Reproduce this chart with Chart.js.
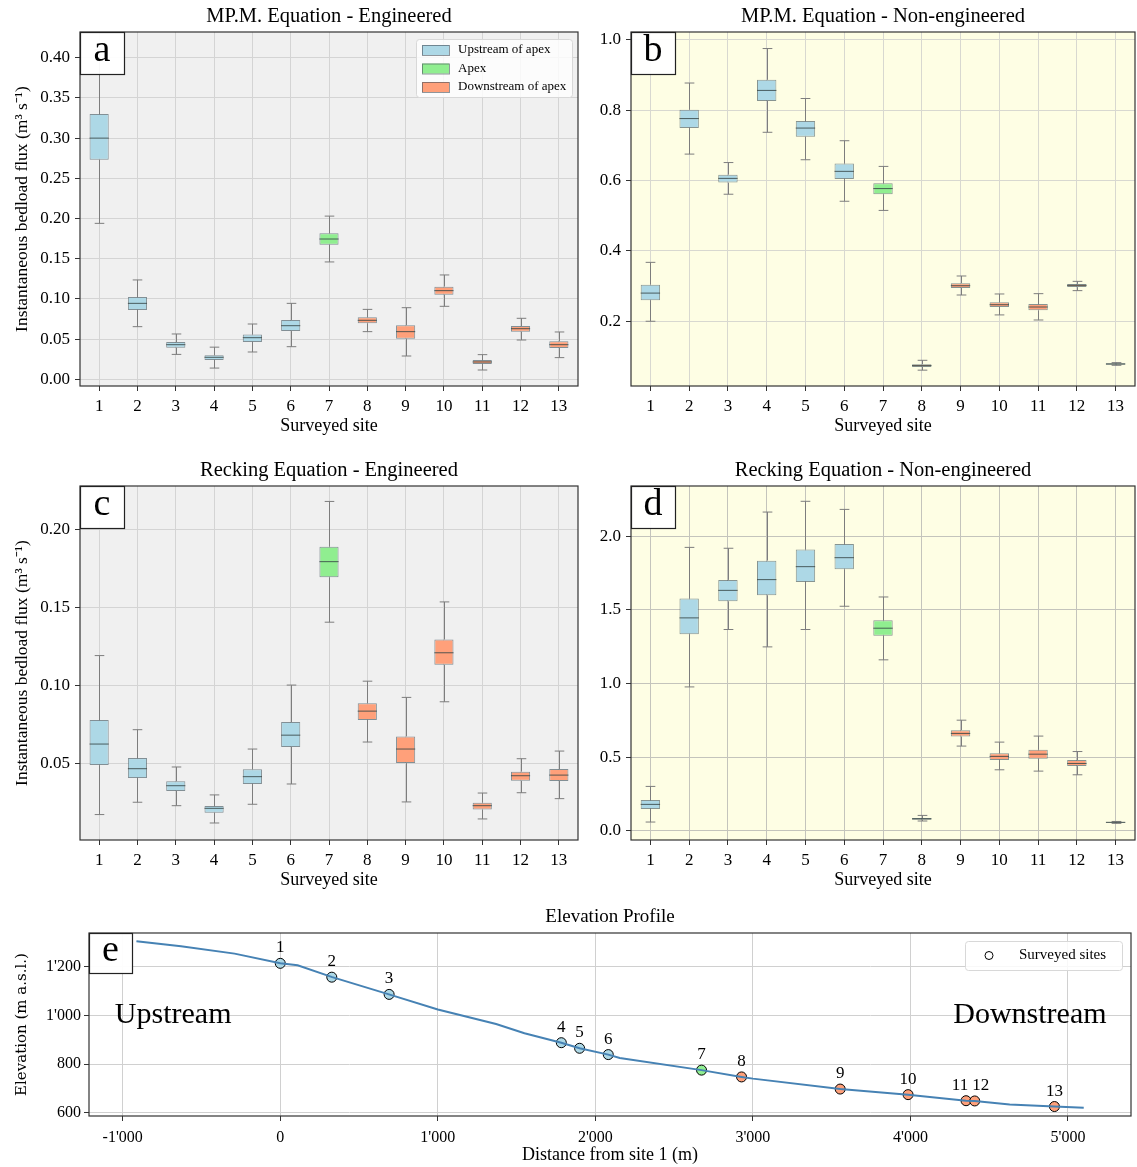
<!DOCTYPE html>
<html>
<head>
<meta charset="utf-8">
<script src="https://cdn.jsdelivr.net/npm/chart.js@4.4.1/dist/chart.umd.min.js"></script>
<style>
  body { margin: 0; background: #fff; width: 1137px; height: 1167px; position: relative; overflow: hidden; }
  .panel { position: absolute; }
</style>
</head>
<body>
<div class="panel" style="left:0;top:0;width:580px;height:445px"><canvas id="chartA"></canvas></div>
<div class="panel" style="left:580px;top:0;width:557px;height:445px"><canvas id="chartB"></canvas></div>
<div class="panel" style="left:0;top:454px;width:580px;height:445px"><canvas id="chartC"></canvas></div>
<div class="panel" style="left:580px;top:454px;width:557px;height:445px"><canvas id="chartD"></canvas></div>
<div class="panel" style="left:0;top:903px;width:1137px;height:264px"><canvas id="chartE"></canvas></div>
<script>
// sites and groups
const sites = ['1','2','3','4','5','6','7','8','9','10','11','12','13'];
const siteGroup = ['up','up','up','up','up','up','apex','down','down','down','down','down','down'];
const groupColours = { up: '#add8e6', apex: '#90ee90', down: '#ffa07a' };
const legendLabels = ['Upstream of apex', 'Apex', 'Downstream of apex'];

// a - MP.M. engineered
const mpmEngMin = [0.194, 0.0655, 0.031, 0.014, 0.034, 0.0406, 0.146, 0.0593, 0.029, 0.0908, 0.0116, 0.0489, 0.027];
const mpmEngQ1  = [0.273, 0.0862, 0.0394, 0.024, 0.0464, 0.060, 0.1675, 0.0697, 0.0506, 0.1053, 0.0191, 0.0593, 0.039];
const mpmEngMed = [0.300, 0.0945, 0.0431, 0.0274, 0.0518, 0.0667, 0.1745, 0.0734, 0.0593, 0.1103, 0.0216, 0.063, 0.0431];
const mpmEngQ3  = [0.330, 0.1024, 0.0464, 0.030, 0.0556, 0.0738, 0.1816, 0.0771, 0.0672, 0.1153, 0.024, 0.0663, 0.0473];
const mpmEngMax = [0.410, 0.1236, 0.0564, 0.040, 0.0688, 0.0945, 0.203, 0.087, 0.0891, 0.1298, 0.0307, 0.0759, 0.0589];
const ticksA = [0, 0.05, 0.10, 0.15, 0.20, 0.25, 0.30, 0.35, 0.40];

// b - MP.M. non-engineered
const mpmNatMin = [0.200, 0.675, 0.561, 0.737, 0.659, 0.541, 0.515, 0.061, 0.2746, 0.218, 0.2036, 0.287, 0.0748];
const mpmNatQ1  = [0.260, 0.749, 0.594, 0.826, 0.724, 0.604, 0.561, 0.070, 0.2945, 0.2405, 0.231, 0.297, 0.0767];
const mpmNatMed = [0.280, 0.776, 0.606, 0.856, 0.749, 0.626, 0.577, 0.074, 0.301, 0.247, 0.2405, 0.302, 0.0786];
const mpmNatQ3  = [0.304, 0.801, 0.6165, 0.886, 0.769, 0.648, 0.592, 0.0776, 0.308, 0.254, 0.249, 0.306, 0.0805];
const mpmNatMax = [0.3674, 0.877, 0.651, 0.975, 0.833, 0.713, 0.640, 0.089, 0.3286, 0.2775, 0.2784, 0.3134, 0.0824];
const ticksB = [0.2, 0.4, 0.6, 0.8, 1.0];

// c - Recking engineered
const recEngMin = [0.0174, 0.0253, 0.0231, 0.012, 0.024, 0.037, 0.1407, 0.0639, 0.0255, 0.0897, 0.0146, 0.0314, 0.0276];
const recEngQ1  = [0.0491, 0.0408, 0.0325, 0.0186, 0.037, 0.0607, 0.1695, 0.078, 0.0504, 0.1134, 0.0206, 0.0391, 0.0389];
const recEngMed = [0.0626, 0.0468, 0.0359, 0.0214, 0.0417, 0.0683, 0.1795, 0.0837, 0.0594, 0.1211, 0.0231, 0.0423, 0.0427];
const recEngQ3  = [0.078, 0.0536, 0.0387, 0.0229, 0.0464, 0.0767, 0.1891, 0.0888, 0.0675, 0.1296, 0.025, 0.0449, 0.0466];
const recEngMax = [0.1193, 0.0718, 0.0479, 0.030, 0.0594, 0.1004, 0.2181, 0.1029, 0.0925, 0.1537, 0.0312, 0.0532, 0.0581];
const ticksC = [0.05, 0.10, 0.15, 0.20];

// d - Recking non-engineered
const recNatMin = [0.059, 0.977, 1.367, 1.249, 1.367, 1.525, 1.161, 0.066, 0.575, 0.414, 0.405, 0.380, 0.050];
const recNatQ1  = [0.147, 1.335, 1.559, 1.600, 1.690, 1.776, 1.324, 0.075, 0.640, 0.480, 0.489, 0.439, 0.054];
const recNatMed = [0.179, 1.446, 1.633, 1.706, 1.794, 1.855, 1.376, 0.081, 0.661, 0.505, 0.520, 0.457, 0.057];
const recNatQ3  = [0.208, 1.577, 1.704, 1.835, 1.910, 1.948, 1.430, 0.086, 0.683, 0.527, 0.550, 0.480, 0.059];
const recNatMax = [0.301, 1.925, 1.919, 2.165, 2.238, 2.183, 1.588, 0.104, 0.751, 0.602, 0.643, 0.538, 0.063];
const ticksD = [0, 0.5, 1.0, 1.5, 2.0];

// e - elevation profile
const profDist = [-913, -630, -290, 0, 110, 330, 690, 1000, 1370, 1550, 1784, 1900, 2082, 2155, 2674, 2928, 3000, 3554, 3985, 4353, 4408, 4630, 4914, 5100];
const profElev = [1306, 1285, 1255, 1215, 1207, 1158, 1087, 1025, 965, 927, 888, 865, 839, 825, 775, 747, 740, 697, 674, 649, 648, 633, 625, 620];
const siteDist = [0, 327, 691, 1784, 1900, 2082, 2674, 2928, 3554, 3985, 4353, 4408, 4914];
const siteElev = [1215, 1158, 1087, 888, 865, 839, 775, 747, 697, 674, 649, 648, 625];
const ticksEx = [-1000, 0, 1000, 2000, 3000, 4000, 5000];
const ticksEy = [600, 800, 1000, 1200];

Chart.defaults.font.family = "'Liberation Serif', 'Times New Roman', serif";
Chart.defaults.color = '#000';
Chart.defaults.animation = false;

const siteColours = siteGroup.map(g => groupColours[g]);
const yLabel = 'Instantaneous bedload flux (m\u00b3 s\u207b\u00b9)';

function panelLetter(ctx, area, letter, w, h) {
  ctx.save();
  ctx.fillStyle = 'rgba(255,255,255,0.95)';
  ctx.fillRect(area.left, area.top, w, h);
  ctx.strokeStyle = '#222';
  ctx.lineWidth = 1.2;
  ctx.strokeRect(area.left + 0.5, area.top + 0.5, w, h);
  ctx.fillStyle = '#000';
  ctx.font = "38px 'Liberation Serif'";
  ctx.textAlign = 'center';
  ctx.textBaseline = 'middle';
  ctx.fillText(letter, area.left + w / 2, area.top + h / 2 - 2);
  ctx.restore();
}

function boxChart(id, opts) {
  const stats = opts.stats;
  const boxExtras = {
    id: 'boxExtras',
    beforeDraw(chart) {
      const { ctx, chartArea: a } = chart;
      ctx.save();
      ctx.fillStyle = opts.bg;
      ctx.fillRect(a.left, a.top, a.right - a.left, a.bottom - a.top);
      ctx.restore();
    },
    afterDatasetsDraw(chart) {
      const { ctx } = chart;
      const y = chart.scales.y;
      const meta = chart.getDatasetMeta(0);
      ctx.save();
      ctx.lineWidth = 1;
      meta.data.forEach((bar, i) => {
        const cx = Math.round(bar.x) + 0.5;
        const w = bar.width;
        const pMin = y.getPixelForValue(stats.min[i]);
        const pQ1 = y.getPixelForValue(stats.q1[i]);
        const pMed = y.getPixelForValue(stats.med[i]);
        const pQ3 = y.getPixelForValue(stats.q3[i]);
        const pMax = y.getPixelForValue(stats.max[i]);
        ctx.strokeStyle = '#7d7d7d';
        ctx.beginPath();
        ctx.moveTo(cx, pQ3); ctx.lineTo(cx, pMax);
        ctx.moveTo(cx - w / 4, pMax); ctx.lineTo(cx + w / 4, pMax);
        ctx.moveTo(cx, pQ1); ctx.lineTo(cx, pMin);
        ctx.moveTo(cx - w / 4, pMin); ctx.lineTo(cx + w / 4, pMin);
        ctx.stroke();
        ctx.strokeStyle = 'rgba(55,70,70,0.85)';
        ctx.beginPath();
        ctx.moveTo(bar.x - w / 2, pMed); ctx.lineTo(bar.x + w / 2, pMed);
        ctx.stroke();
      });
      ctx.restore();
    },
    afterDraw(chart) {
      const { ctx, chartArea: a } = chart;
      ctx.save();
      ctx.strokeStyle = '#333';
      ctx.lineWidth = 1.2;
      ctx.strokeRect(a.left, a.top, a.right - a.left, a.bottom - a.top);
      ctx.restore();
      panelLetter(ctx, a, opts.letter, 44, 42);
      if (opts.legend) {
        const lw = 156, lh = 58;
        const lx = a.right - lw - 6, ly = a.top + 7;
        ctx.save();
        ctx.fillStyle = 'rgba(255,255,255,0.8)';
        ctx.strokeStyle = '#d8d8d8';
        ctx.beginPath();
        ctx.roundRect(lx + 0.5, ly + 0.5, lw, lh, 3);
        ctx.fill(); ctx.stroke();
        ctx.font = "13px 'Liberation Serif'";
        ctx.textBaseline = 'middle';
        const cols = [groupColours.up, groupColours.apex, groupColours.down];
        legendLabels.forEach((t, k) => {
          const ey = ly + 11 + k * 18.5;
          ctx.fillStyle = cols[k];
          ctx.fillRect(lx + 6, ey - 5, 27, 10);
          ctx.strokeStyle = 'rgba(70,80,90,0.6)';
          ctx.strokeRect(lx + 6.5, ey - 4.5, 27, 10);
          ctx.fillStyle = '#000';
          ctx.fillText(t, lx + 42, ey);
        });
        ctx.restore();
      }
    }
  };

  return new Chart(document.getElementById(id), {
    type: 'bar',
    data: {
      labels: sites,
      datasets: [{
        label: 'box',
        data: stats.q1.map((v, i) => [v, stats.q3[i]]),
        backgroundColor: siteColours,
        borderColor: 'rgba(70,90,100,0.65)',
        borderWidth: 1,
        borderSkipped: false,
        barPercentage: 0.5,
        categoryPercentage: 1.0
      }]
    },
    options: {
      responsive: true,
      maintainAspectRatio: false,
      layout: { padding: { top: 0, right: 2, bottom: 0, left: 0 } },
      plugins: {
        legend: { display: false },
        tooltip: { enabled: false },
        title: {
          display: true, text: opts.title, fullSize: false,
          font: { size: 20.5, weight: 'normal' }, color: '#000',
          padding: { top: 4.5, bottom: 2.9 }
        }
      },
      scales: {
        x: {
          type: 'category',
          grid: { color: opts.gridColour, offset: false, tickLength: 5, tickColor: '#333' },
          border: { display: false },
          ticks: { font: { size: 17 }, maxRotation: 0, padding: 5, color: '#000' },
          title: { display: true, text: 'Surveyed site', font: { size: 18 }, padding: { top: 0, bottom: 8 } },
          afterFit: s => { s.height = 59; }
        },
        y: {
          min: opts.range[0], max: opts.range[1],
          grid: { color: opts.gridColour, tickLength: 5, tickColor: '#333' },
          border: { display: false },
          afterBuildTicks: s => { s.ticks = opts.ticks.map(v => ({ value: v })); },
          ticks: { font: { size: 17 }, padding: 5, color: '#000', callback: v => v.toFixed(opts.dec) },
          title: { display: opts.showYLabel, text: yLabel, font: { size: 17.5 }, padding: { top: 12, bottom: 0 } },
          afterFit: s => { s.width = opts.axisWidth; }
        }
      }
    },
    plugins: [boxExtras]
  });
}

boxChart('chartA', {
  title: 'MP.M. Equation - Engineered', letter: 'a', bg: '#f0f0f0', gridColour: '#d4d4d4', legend: true,
  stats: { min: mpmEngMin, q1: mpmEngQ1, med: mpmEngMed, q3: mpmEngQ3, max: mpmEngMax },
  range: [-0.0083, 0.432], ticks: ticksA, dec: 2, showYLabel: true, axisWidth: 80
});
boxChart('chartB', {
  title: 'MP.M. Equation - Non-engineered', letter: 'b', bg: '#fefee4', gridColour: '#d8d8d0', legend: false,
  stats: { min: mpmNatMin, q1: mpmNatQ1, med: mpmNatMed, q3: mpmNatQ3, max: mpmNatMax },
  range: [0.016, 1.022], ticks: ticksB, dec: 1, showYLabel: false, axisWidth: 51
});
boxChart('chartC', {
  title: 'Recking Equation - Engineered', letter: 'c', bg: '#f0f0f0', gridColour: '#d4d4d4', legend: false,
  stats: { min: recEngMin, q1: recEngQ1, med: recEngMed, q3: recEngQ3, max: recEngMax },
  range: [0.0011, 0.228], ticks: ticksC, dec: 2, showYLabel: true, axisWidth: 80
});
boxChart('chartD', {
  title: 'Recking Equation - Non-engineered', letter: 'd', bg: '#fefee4', gridColour: '#c4c4bc', legend: false,
  stats: { min: recNatMin, q1: recNatQ1, med: recNatMed, q3: recNatQ3, max: recNatMax },
  range: [-0.063, 2.342], ticks: ticksD, dec: 1, showYLabel: false, axisWidth: 51
});

// elevation profile
const fmtThousands = v => {
  const s = Math.abs(v).toString().replace(/\B(?=(\d{3})+(?!\d))/g, "'");
  return (v < 0 ? '-' : '') + s;
};
// sideways nudge for the two crowded labels (11 and 12)
const labelNudge = [0, 0, 0, 0, 0, 0, 0, 0, 0, 0, -6, 6, 0];

const profileExtras = {
  id: 'profileExtras',
  afterDatasetsDraw(chart) {
    const { ctx } = chart;
    const meta = chart.getDatasetMeta(1);
    ctx.save();
    ctx.font = "17px 'Liberation Serif'";
    ctx.fillStyle = '#000';
    ctx.textAlign = 'center';
    ctx.textBaseline = 'bottom';
    meta.data.forEach((p, i) => ctx.fillText(sites[i], p.x + labelNudge[i], p.y - 7));
    const xs = chart.scales.x, ys = chart.scales.y;
    ctx.font = "30px 'Liberation Serif'";
    ctx.textBaseline = 'middle';
    ctx.textAlign = 'left';
    ctx.fillText('Upstream', xs.getPixelForValue(-1050), ys.getPixelForValue(1000));
    ctx.textAlign = 'right';
    ctx.fillText('Downstream', xs.getPixelForValue(5245), ys.getPixelForValue(1000));
    ctx.restore();
  },
  afterDraw(chart) {
    const { ctx, chartArea: a } = chart;
    ctx.save();
    ctx.strokeStyle = '#333';
    ctx.lineWidth = 1.2;
    ctx.strokeRect(a.left, a.top, a.right - a.left, a.bottom - a.top);
    // legend
    const lw = 157, lh = 29;
    const lx = a.right - lw - 9, ly = a.top + 8;
    ctx.fillStyle = 'rgba(255,255,255,0.85)';
    ctx.strokeStyle = '#d8d8d8';
    ctx.lineWidth = 1;
    ctx.beginPath();
    ctx.roundRect(lx + 0.5, ly + 0.5, lw, lh, 3);
    ctx.fill(); ctx.stroke();
    ctx.beginPath();
    ctx.arc(lx + 24, ly + lh / 2, 4, 0, Math.PI * 2);
    ctx.fillStyle = '#fff'; ctx.fill();
    ctx.strokeStyle = '#000'; ctx.stroke();
    ctx.fillStyle = '#000';
    ctx.font = "15px 'Liberation Serif'";
    ctx.textBaseline = 'middle';
    ctx.fillText('Surveyed sites', lx + 54, ly + lh / 2);
    ctx.restore();
    panelLetter(ctx, a, 'e', 43, 40);
  }
};

new Chart(document.getElementById('chartE'), {
  type: 'scatter',
  data: {
    datasets: [{
      label: 'profile',
      data: profDist.map((d, i) => ({ x: d, y: profElev[i] })),
      showLine: true,
      borderColor: '#4682b4',
      borderWidth: 2,
      pointRadius: 0,
      tension: 0
    }, {
      label: 'Surveyed sites',
      data: siteDist.map((d, i) => ({ x: d, y: siteElev[i] })),
      pointRadius: 5,
      pointBackgroundColor: siteColours,
      pointBorderColor: '#000',
      pointBorderWidth: 1
    }]
  },
  options: {
    responsive: true,
    maintainAspectRatio: false,
    layout: { padding: { top: 0, right: 3, bottom: 0, left: 0 } },
    plugins: {
      legend: { display: false },
      tooltip: { enabled: false },
      title: {
        display: true, text: 'Elevation Profile', fullSize: false,
        font: { size: 19, weight: 'normal' }, color: '#000',
        padding: { top: 3, bottom: 4.2 }
      }
    },
    scales: {
      x: {
        type: 'linear', min: -1214, max: 5400,
        grid: { color: '#d0d0d0', tickLength: 5, tickColor: '#333' },
        border: { display: false },
        afterBuildTicks: s => { s.ticks = ticksEx.map(v => ({ value: v })); },
        ticks: { font: { size: 16 }, padding: 7, color: '#000', callback: v => fmtThousands(v) },
        title: { display: true, text: 'Distance from site 1 (m)', font: { size: 18 }, padding: { top: 0, bottom: 1 } },
        afterFit: s => { s.height = 51; }
      },
      y: {
        type: 'linear', min: 586, max: 1340,
        grid: { color: '#d0d0d0', tickLength: 5, tickColor: '#333' },
        border: { display: false },
        afterBuildTicks: s => { s.ticks = ticksEy.map(v => ({ value: v })); },
        ticks: { font: { size: 16 }, padding: 3, color: '#000', callback: v => fmtThousands(v) },
        title: { display: true, text: 'Elevation (m a.s.l.)', font: { size: 15, family: "'DejaVu Serif', serif" }, padding: { top: 13, bottom: 0 } },
        afterFit: s => { s.width = 89; }
      }
    }
  },
  plugins: [profileExtras]
});
</script>
</body>
</html>
